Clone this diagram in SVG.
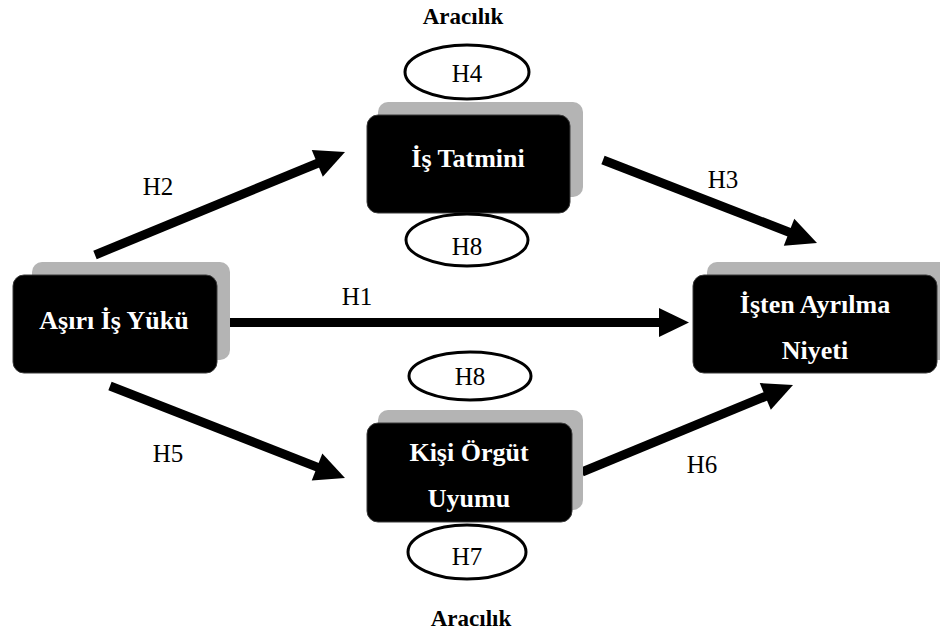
<svg xmlns="http://www.w3.org/2000/svg" width="940" height="633" viewBox="0 0 940 633">
<style>
.shadow{fill:#b4b4b4}
.box{fill:#000;stroke:#3a3a3a;stroke-width:1}
.nt{font-family:"Liberation Serif","Times New Roman",serif;font-weight:bold;font-size:26px;fill:#fff;text-anchor:middle}
.lbl{font-family:"Liberation Serif","Times New Roman",serif;font-size:25px;fill:#000;text-anchor:middle}
.ar{font-family:"Liberation Serif","Times New Roman",serif;font-weight:bold;font-size:23px;fill:#000;text-anchor:middle}
.ell{fill:#fff;stroke:#000;stroke-width:3}
.edge{stroke:#000;stroke-width:9;fill:none;marker-end:url(#ah)}
</style>
<defs>
<marker id="ah" markerUnits="userSpaceOnUse" markerWidth="31" markerHeight="30" refX="5" refY="14.5" orient="auto" overflow="visible">
<path d="M0,0 L30,14.5 L0,29 Z" fill="#000"/>
</marker>
</defs>
<rect width="940" height="633" fill="#fff"/>
<g id="connectors">
<line class="edge" x1="217" y1="322.5" x2="664" y2="322.5"/>
<line class="edge" x1="95" y1="255" x2="321.9" y2="161.5"/>
<line class="edge" x1="603" y1="160" x2="793.7" y2="234"/>
<line class="edge" x1="110" y1="386" x2="321.7" y2="468.9"/>
<line class="edge" x1="582" y1="472" x2="769.9" y2="394.5"/>
<text class="lbl" x="357" y="305">H1</text>
<text class="lbl" x="158" y="195">H2</text>
<text class="lbl" x="723" y="188">H3</text>
<text class="lbl" x="168" y="462">H5</text>
<text class="lbl" x="702" y="473">H6</text>
</g>
<g id="node-asiri">
<rect class="shadow" x="32" y="262" width="198" height="98" rx="10"/>
<rect class="box" x="13" y="275" width="204" height="98" rx="11"/>
<text class="nt" x="114" y="329">Aşırı İş Yükü</text>
</g>
<g id="node-tatmin">
<rect class="shadow" x="378" y="102" width="205" height="95" rx="10"/>
<rect class="box" x="367" y="115" width="203" height="98" rx="11"/>
<text class="nt" x="468" y="167">İş Tatmini</text>
</g>
<g id="node-ayrilma">
<rect class="shadow" x="707" y="262" width="245" height="98" rx="10"/>
<rect class="box" x="693" y="275" width="244" height="98" rx="11"/>
<text class="nt" x="815" y="313">İşten Ayrılma</text>
<text class="nt" x="815" y="359">Niyeti</text>
</g>
<g id="node-kisi">
<rect class="shadow" x="378" y="410" width="205" height="100" rx="10"/>
<rect class="box" x="367" y="423" width="205" height="99" rx="11"/>
<text class="nt" x="469" y="461">Kişi Örgüt</text>
<text class="nt" x="469" y="507">Uyumu</text>
</g>
<g id="aracilik-top">
<text class="ar" x="463" y="24">Aracılık</text>
</g>
<g id="h4">
<ellipse class="ell" cx="467" cy="72" rx="62" ry="27"/>
<text class="lbl" x="467" y="82">H4</text>
</g>
<g id="h8-top">
<ellipse class="ell" cx="467" cy="240" rx="61" ry="26"/>
<text class="lbl" x="467" y="255">H8</text>
</g>
<g id="h8-bottom">
<ellipse class="ell" cx="470" cy="376" rx="61" ry="24"/>
<text class="lbl" x="470" y="385">H8</text>
</g>
<g id="h7">
<ellipse class="ell" cx="467" cy="552" rx="59" ry="27"/>
<text class="lbl" x="467" y="565">H7</text>
</g>
<g id="aracilik-bottom">
<text class="ar" x="471" y="626">Aracılık</text>
</g>
</svg>
